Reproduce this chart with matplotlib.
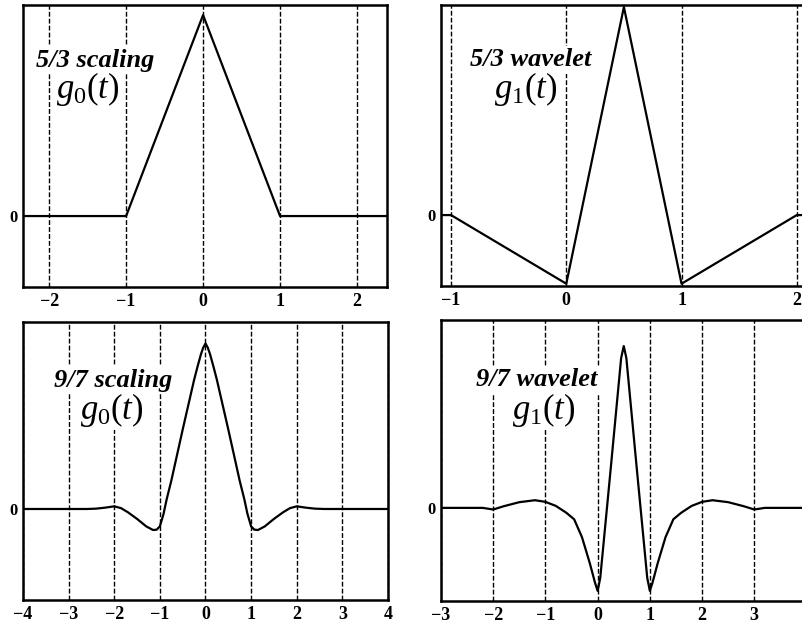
import numpy as np
import matplotlib
matplotlib.use('Agg')
import matplotlib.pyplot as plt

plt.rcParams.update({
    'font.family': 'Liberation Serif',
    'mathtext.fontset': 'custom',
    'mathtext.rm': 'Liberation Serif',
    'mathtext.it': 'Liberation Serif:italic',
    'mathtext.bf': 'Liberation Serif:bold',
})

# 5/3 scaling function g0(t)
t_53s = [-3, -1, 0, 1, 3]
g_53s = [0, 0, 1, 0, 0]

# 5/3 wavelet g1(t)
t_53w = [-1.5, -1, 0, 0.5, 1, 2, 2.5]
g_53w = [0, 0, -0.33, 1, -0.33, 0, 0]

# 9/7 scaling function g0(t)
t_97s = [-4, -2.6, -2.4, -2.2, -2.0, -1.85, -1.7, -1.5, -1.3, -1.15, -1.07, -1.0,
         -0.92, -0.85, -0.75, -0.625, -0.5, -0.375, -0.25, -0.175, -0.1, -0.05, 0,
         0.05, 0.1, 0.175, 0.25, 0.375, 0.5, 0.625, 0.75, 0.85, 0.92, 1.0,
         1.07, 1.15, 1.3, 1.5, 1.7, 1.85, 2.0, 2.2, 2.4, 2.6, 4]
g_97s = [0, 0, 0.002, 0.008, 0.016, 0.005, -0.02, -0.06, -0.105, -0.127, -0.125, -0.105,
         -0.03, 0.06, 0.17, 0.325, 0.48, 0.63, 0.78, 0.86, 0.935, 0.975, 1.0,
         0.975, 0.935, 0.86, 0.78, 0.63, 0.48, 0.325, 0.17, 0.06, -0.03, -0.105,
         -0.125, -0.127, -0.105, -0.06, -0.02, 0.005, 0.016, 0.008, 0.002, 0, 0]

# 9/7 wavelet g1(t)
t_97w = [-3.0, -2.2, -2.0, -1.8, -1.5, -1.2, -1.0, -0.8, -0.6, -0.45, -0.3, -0.15,
         -0.05, 0.0, 0.05, 0.25, 0.45, 0.5, 0.55, 0.75, 0.95, 1.0, 1.05, 1.15, 1.3,
         1.45, 1.6, 1.8, 2.0, 2.2, 2.5, 2.8, 3.0, 3.2, 4.0]
g_97w = [0, 0, -0.01, 0.01, 0.035, 0.047, 0.037, 0.012, -0.03, -0.07, -0.18, -0.34,
         -0.46, -0.51, -0.43, 0.24, 0.92, 0.994, 0.92, 0.24, -0.43, -0.51, -0.46, -0.34, -0.18,
         -0.07, -0.03, 0.012, 0.037, 0.047, 0.035, 0.01, -0.01, 0, 0]

W, H = 803, 623
fig = plt.figure(figsize=(W / 100, H / 100), dpi=100)

def make_axes(left, right, top, bottom):
    return fig.add_axes([left / W, 1 - bottom / H, (right - left) / W, (bottom - top) / H])

panels = [
    # pixel box, xlim, ylim, xticks, data, label, func label, label positions (px)
    ((23, 387, 5, 287), (-2.34, 2.39), (-0.353, 1.05), [-2, -1, 0, 1, 2],
     (t_53s, g_53s), '5/3 scaling', r'$g_0(t)$', (95, 60), (88, 89)),
    ((441, 806, 5, 286), (-1.087, 2.08), (-0.341, 1.01), [-1, 0, 1, 2],
     (t_53w, g_53w), '5/3 wavelet', r'$g_1(t)$', (531, 60), (526, 89)),
    ((23, 388, 322, 600), (-4, 4), (-0.55, 1.13), [-4, -3, -2, -1, 0, 1, 2, 3, 4],
     (t_97s, g_97s), '9/7 scaling', r'$g_0(t)$', (113, 380), (112, 410)),
    ((441, 806.5, 320, 601), (-3, 4), (-0.572, 1.154), [-3, -2, -1, 0, 1, 2, 3, 4],
     (t_97w, g_97w), '9/7 wavelet', r'$g_1(t)$', (537, 380), (544, 410)),
]

for box, xl, yl, xt, (tt, gg), name, fn, p1, p2 in panels:
    ax = make_axes(*box)
    ax.set_xlim(*xl)
    ax.set_ylim(*yl)
    ax.set_xticks(xt)
    ax.set_xticklabels([str(v).replace('-', '\u2212') for v in xt],
                       fontweight='bold', fontsize=13)
    ax.set_yticks([0])
    ax.set_yticklabels(['0'], fontweight='bold', fontsize=12)
    ax.tick_params(length=0, pad=4)
    for v in xt:
        ax.axvline(v, color='black', lw=1.0, ls=(0, (3.5, 1.5)), zorder=1)
    ax.plot(tt, gg, color='black', lw=1.6, zorder=3)
    for sp in ax.spines.values():
        sp.set_linewidth(1.8)
    fig.text(p1[0] / W, 1 - p1[1] / H, name, ha='center', va='center',
             fontsize=19, fontweight='bold', fontstyle='italic', zorder=5,
             bbox=dict(facecolor='white', edgecolor='none', pad=2))
    fig.text(p2[0] / W, 1 - p2[1] / H, fn, ha='center', va='center',
             fontsize=25, zorder=5,
             bbox=dict(facecolor='white', edgecolor='none', pad=1))

fig.savefig('out.png', dpi=100)
